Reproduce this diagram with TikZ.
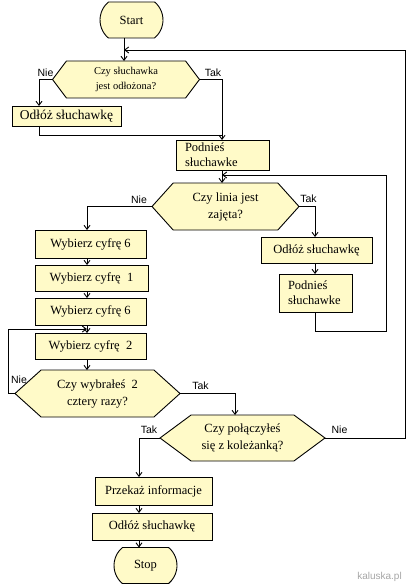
\documentclass[tikz,border=0pt]{standalone}
\usepackage{fontspec}
\setmainfont{Liberation Serif}
\newfontfamily\etyk{Liberation Sans}
\usetikzlibrary{shapes.misc, shapes.symbols, arrows.meta}
\definecolor{zolty}{RGB}{255,250,200}
\tikzset{
	blok/.style={draw, fill=zolty, inner sep=0pt, outer sep=0pt, align=center, font=\fontsize{12.5}{15}\selectfont},
	decyzja/.style={draw, fill=zolty, signal, signal to=east and west, inner sep=0pt, outer sep=0pt, align=center, font=\fontsize{12.5}{17}\selectfont},
	terminal/.style={draw, fill=zolty, rounded rectangle, rounded rectangle arc length=100, inner sep=0pt, outer sep=0pt, minimum width=63pt, minimum height=36pt, font=\fontsize{12.5}{15}\selectfont},
	etykieta/.style={inner sep=0pt, font=\etyk\fontsize{10.5}{12}\selectfont}
}

\begin{document}
\begin{tikzpicture}[x=1pt, y=-1pt, line width=0.9pt, >={Straight Barb[length=4pt,width=6pt]}]
				\useasboundingbox (0,0) rectangle (411,588);

				% kolumny linii
				\coordinate (kA) at (124,0);
				\coordinate (kB) at (39,0);
				\coordinate (kC) at (222,0);
				\coordinate (kD) at (87,0);
				\coordinate (kE) at (315,0);
				\coordinate (kF) at (235,0);
				\coordinate (kG) at (139,0);
				\coordinate (kH) at (386,0);

				\node[terminal] (start) at (131.5,20) {Start};
				\node[decyzja, minimum width=147pt, minimum height=37pt, signal pointer angle=106, font=\fontsize{10.5}{15}\selectfont] (d1) at (126,79.5) {Czy słuchawka\\jest odłożona?};
				\node[blok, minimum width=109pt, minimum height=20pt, font=\fontsize{13.5}{15}\selectfont] (ods1) at (66.5,116) {Odłóż słuchawkę};
				\node[blok, text width=75pt, align=left, inner xsep=9pt, minimum height=30pt] (pod1) at (222.5,155) {Podnieś\\słuchawke};
				\node[decyzja, minimum width=147pt, minimum height=47pt, signal pointer angle=96] (d2) at (225.5,206.5) {Czy linia jest\\zajęta?};

				\node[blok, minimum width=111pt, minimum height=28pt] (w1) at (90.5,244) {Wybierz cyfrę 6};
				\node[blok, minimum width=113pt, minimum height=26pt] (w2) at (91.5,278) {Wybierz cyfrę\ \ 1};
				\node[blok, minimum width=111pt, minimum height=27pt] (w3) at (90.5,311.5) {Wybierz cyfrę 6};
				\node[blok, minimum width=111pt, minimum height=26pt] (w4) at (90.5,346) {Wybierz cyfrę\ \ 2};
				\node[decyzja, minimum width=165pt, minimum height=47pt, signal pointer angle=84] (d3) at (97.5,393.5) {Czy wybrałeś\ \ 2\\cztery razy?};

				\node[blok, minimum width=111pt, minimum height=26pt] (o2) at (316.5,250) {Odłóż słuchawkę};
				\node[blok, text width=55pt, align=left, inner xsep=9pt, minimum height=38pt] (p2) at (315.5,293) {Podnieś\\słuchawke};

				\node[decyzja, minimum width=165pt, minimum height=46pt, signal pointer angle=73] (d4) at (242.5,438) {Czy połączyłeś\\się z koleżanką?};
				\node[blok, minimum width=117pt, minimum height=28pt] (prz) at (153.5,491) {Przekaż informacje};
				\node[blok, minimum width=120pt, minimum height=27pt] (odl3) at (152,526.5) {Odłóż słuchawkę};
				\node[terminal] (stop) at (145.5,565.5) {Stop};

				% polaczenia
				\draw[->] (kA |- start.south) -- (kA |- d1.north);
				\draw[->] (d1.west) -| (kB |- ods1.north);
				\draw[->] (d1.east) -| (kC |- pod1.north);
				\draw (kB |- ods1.south) |- ([yshift=5pt]kC |- pod1.north);
				\draw[->] (kC |- pod1.south) -- (kC |- d2.north);

				\draw[->] (d2.west) -| (kD |- w1.north);
				\draw[->] (kD |- w1.south) -- (kD |- w2.north);
				\draw[->] (kD |- w2.south) -- (kD |- w3.north);
				\draw[->] (kD |- w3.south) -- (kD |- w4.north);
				\draw[->] (kD |- w4.south) -- (kD |- d3.north);
				\draw[->] (d3.west) -- ++(-7,0) |- ([yshift=4pt]kD |- w4.north);
				\draw[->] (d3.east) -| (kF |- d4.north);

				\draw[->] (d2.east) -| (kE |- o2.north);
				\draw[->] (kE |- o2.south) -- (kE |- p2.north);
				\draw[->] (kE |- p2.south) -- ++(0,19) -| ([yshift=-5pt]kH |- pod1.south) -- ([yshift=-5pt]kC |- pod1.south);

				\draw[->] (d4.east) -- ++(80,0) |- ([yshift=-12pt]kA |- start.south);
				\draw[->] (d4.west) -| (kG |- prz.north);
				\draw[->] (kG |- prz.south) -- (kG |- odl3.north);
				\draw[->] (kG |- odl3.south) -- (kG |- stop.north);

				% opisy
				\node[etykieta] (n1) at (45.5,73) {Nie};
				\node[etykieta] (t1) at (213,73) {Tak};
				\node[etykieta] (n2) at (139,200) {Nie};
				\node[etykieta] (t2) at (308.5,199) {Tak};
				\node[etykieta] (n3) at (19,380) {Nie};
				\node[etykieta] (t3) at (200.5,386) {Tak};
				\node[etykieta] (t4) at (149,430) {Tak};
				\node[etykieta] (n4) at (339.5,430) {Nie};

				\node[etykieta, text=gray!70, font=\etyk\fontsize{10}{12}\selectfont] (znak) at (379.5,577) {kaluska.pl};
			\end{tikzpicture}
\end{document}
